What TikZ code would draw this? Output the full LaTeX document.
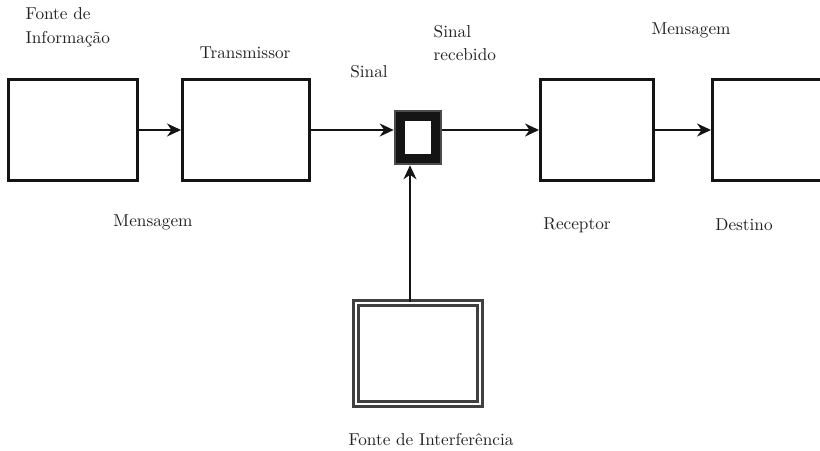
\documentclass[tikz,border=0pt]{standalone}
\usetikzlibrary{arrows.meta,positioning}

\begin{document}
\begin{tikzpicture}[thick]
	% Definição de cores
	\definecolor{texto}{RGB}{35,35,35} % Cinza escuro dos rótulos
	\definecolor{borda}{RGB}{20,20,20} % Quase preto das caixas
	
	% --- Área da figura (a caixa do Destino sai pela direita) ---
	\clip (0,0) rectangle (16.4,9);
	\fill[white] (0,0) rectangle (16.4,9);
	
	% --- Estilos ---
	\tikzset{caixa/.style={draw=borda, line width=1.7pt, minimum height=2.02cm, inner sep=0pt},
		rotulo/.style={text=texto, font=\fontsize{9.8}{13.5}\selectfont, inner sep=0pt},
		seta/.style={draw=borda, line width=1.1pt, -{Stealth[length=0.28cm, width=0.26cm]}}}
	
	% --- Blocos da cadeia ---
	\node[caixa, minimum width=2.58cm] (fonte) at (1.46, 6.4) {};
	\node[caixa, minimum width=2.54cm] (transm) at (4.92, 6.4) {};
	\node[caixa, minimum width=2.26cm] (receptor) at (11.94, 6.4) {};
	\node[caixa, minimum width=2.6cm] (destino) at (15.55, 6.4) {};
	
	% Canal (caixa pequena de borda grossa)
	\node[draw=black!70, line width=6.6pt, minimum width=0.74cm, minimum height=0.88cm,
		inner sep=0pt] (canalFora) at (8.36, 6.25) {};
	\node[draw=borda, line width=5pt, minimum width=0.70cm, minimum height=0.84cm,
		inner sep=0pt] (canal) at (8.36, 6.25) {};
	
	% Fonte de interferência (borda dupla)
	\node[draw=black!75, double, double distance=1.4pt, line width=1.5pt,
		minimum width=2.48cm, minimum height=2.02cm, inner sep=0pt] (ruido) at (8.36, 1.93) {};
	
	% --- Setas ---
	\draw[seta] (fonte) -- (transm);
	\draw[seta] (transm.east) -- (transm.east -| canalFora.west);
	\draw[seta] (canalFora.east |- receptor.west) -- (receptor.west);
	\draw[seta] (receptor) -- (destino);
	\draw[seta] ([xshift=-0.16cm]ruido.north) -- ([xshift=-0.16cm]canalFora.south);
	
	% --- Rótulos ---
	\node[rotulo, align=left, anchor=west] (rFonte) at (0.5, 8.46) {Fonte de\\Informação};
	\node[rotulo] (rTransm) at (4.9, 7.94) {Transmissor};
	\node[rotulo] (rSinal) at (7.38, 7.56) {Sinal};
	\node[rotulo, align=left, anchor=west] (rRecebido) at (8.66, 8.14) {Sinal\\recebido};
	\node[rotulo] (rMsgSaida) at (13.82, 8.4) {Mensagem};
	\node[rotulo] (rMsg) at (3.06, 4.56) {Mensagem};
	\node[rotulo] (rReceptor) at (11.54, 4.5) {Receptor};
	\node[rotulo] (rDestino) at (14.88, 4.5) {Destino};
	\node[rotulo] (rRuido) at (8.62, 0.2) {Fonte de Interferência};
	
\end{tikzpicture}
\end{document}
